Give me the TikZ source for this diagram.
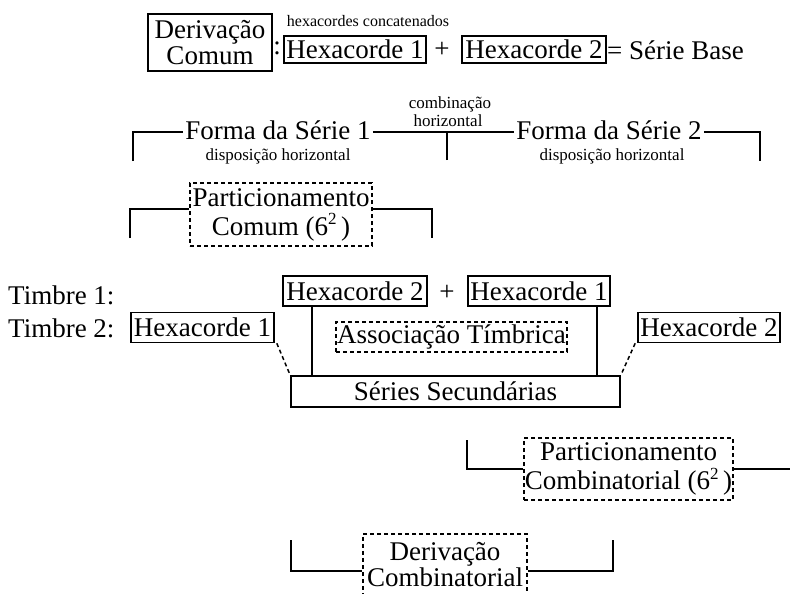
\documentclass[tikz,border=0pt]{standalone}
\usepackage{fontspec}
\setmainfont{Liberation Serif}
% squared exponent used in the partitioning labels
\newcommand{\sqexp}{\raisebox{10.5pt}{\fontsize{17}{17}\selectfont 2}}
\begin{document}
\begin{tikzpicture}[x=1pt,y=-1pt,
  big/.style={font=\fontsize{27}{26}\selectfont},
  small/.style={font=\fontsize{16}{16}\selectfont},
  note/.style={font=\fontsize{17}{16}\selectfont, inner sep=0pt},
  box/.style={big, draw, line width=1.6pt, inner sep=0pt, align=center},
  dbox/.style={big, draw, dashed, dash pattern=on 4pt off 3pt, line width=1.5pt, inner sep=0pt, align=center},
  txt/.style={big, inner sep=0pt, align=center},
  link/.style={line width=1.8pt},
  dlink/.style={line width=1.5pt, dash pattern=on 4pt off 3pt}]
\useasboundingbox (0,0) rectangle (790,594);
\clip (0,0) rectangle (790,594);

% first line: base series from two hexachords
\node[box, minimum width=124pt, minimum height=57pt] (dc) at (210,42.5) {Derivação\\Comum};
\node[txt] (colon) at (277,48) {:};
\node[box, minimum width=142pt, minimum height=27pt] (h1) at (355,49.5) {Hexacorde 1};
\node[small, inner sep=0pt] (conc) at (368,21) {hexacordes concatenados};
\node[txt] (plus) at (442,50) {+};
\node[box, minimum width=144pt, minimum height=27pt] (h2) at (534,49.5) {Hexacorde 2};
\node[txt, anchor=west] (base) at (607,50) {= Série Base};

% series forms joined horizontally
\node[txt] (fs1) at (278,130) {Forma da Série 1};
\node[note] (d1) at (278,156) {disposição horizontal};
\node[txt] (fs2) at (609,130) {Forma da Série 2};
\node[note] (d2) at (612,156) {disposição horizontal};
\node[note] (comb1) at (450,104) {combinação};
\node[note] (comb2) at (448,121) {horizontal};
\coordinate (l2) at (133,161);
\coordinate (r2) at (760,161);
\coordinate (m2) at (447,160);
\coordinate (y2) at (0,132);
\draw[link] (l2) |- ([xshift=-2pt]y2 -| fs1.west);
\draw[link] ([xshift=2pt]y2 -| fs1.east) -- ([xshift=-2pt]y2 -| fs2.west);
\draw[link] (m2) -- (m2 |- y2);
\draw[link] ([xshift=2pt]y2 -| fs2.east) -| (r2);

% common partitioning
\node[dbox, minimum width=182pt, minimum height=63pt] (pc) at (281,214.5) {Particionamento\\[3pt]Comum (6\sqexp\,)};
\coordinate (l3) at (130,238);
\coordinate (r3) at (432,238);
\coordinate (y3) at (0,209);
\draw[link] (l3) |- (y3 -| pc.west);
\draw[link] (y3 -| pc.east) -| (r3);

% timbres and secondary series
\node[txt, anchor=west] (t1) at (8,295) {Timbre 1:};
\node[txt, anchor=west] (t2) at (8,328) {Timbre 2:};
\node[box, minimum width=144pt, minimum height=30pt] (h2b) at (355,291) {Hexacorde 2};
\node[txt] (plus2) at (447,293) {+};
\node[box, line width=2.2pt, minimum width=142pt, minimum height=30pt] (h1b) at (539,291) {Hexacorde 1};
\node[box, minimum width=143pt, minimum height=30pt] (h1c) at (202.5,327.5) {Hexacorde 1};
\node[box, minimum width=142pt, minimum height=30pt] (h2c) at (709,327.5) {Hexacorde 2};
\node[dbox, minimum width=231pt, minimum height=30pt] (at) at (451.5,337) {Associação Tímbrica};
\node[box, minimum width=329pt, minimum height=31pt] (ss) at (455.5,391.5) {Séries Secundárias};
\coordinate (v1) at (312,0);
\coordinate (v2) at (597,0);
\draw[link, line width=1.5pt] (v1 |- h2b.south) -- (v1 |- ss.north);
\draw[link, line width=1.5pt] (v2 |- h1b.south) -- (v2 |- ss.north);
\draw[dlink] ([xshift=2pt]h1c.south east) -- (ss.north west);
\draw[dlink] ([xshift=-2pt]h2c.south west) -- (ss.north east);

% combinatorial partitioning
\node[dbox, minimum width=209pt, minimum height=62pt] (pcc) at (628.5,469) {Particionamento\\[3pt]Combinatorial (6\sqexp\,)};
\coordinate (l5) at (467,440);
\coordinate (r5) at (790,469);
\draw[link] (l5) |- (pcc.west);
\draw[link] (pcc.east) -- (r5);

% combinatorial derivation: the frame runs past the lower edge
\node[dbox, minimum width=164pt, minimum height=75pt, anchor=north] (dcb) at (445,533) {};
\node[txt] (dcbt) at (445,565) {Derivação\\Combinatorial};
\coordinate (l6) at (291,540);
\coordinate (r6) at (613,540);
\draw[link] (l6) |- (dcb.west);
\draw[link] (dcb.east) -| (r6);
\end{tikzpicture}
\end{document}
